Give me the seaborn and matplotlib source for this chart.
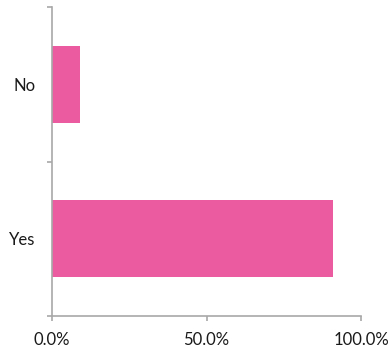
import matplotlib
matplotlib.use("Agg")
import matplotlib.pyplot as plt
import seaborn as sns
import pandas as pd
from matplotlib.ticker import FixedLocator, PercentFormatter

# Survey answers and their share of responses (%)
answers = ["No", "Yes"]
shares = [9.0, 91.0]
x_ticks = [0, 50, 100]

df = pd.DataFrame({"answer": answers, "share": shares})

sns.set_theme(style="white")
plt.rcParams["font.family"] = ["Lato", "DejaVu Sans"]

fig = plt.figure(figsize=(3.92, 3.51), dpi=100)
ax = fig.add_axes([0.1327, 0.0997, 0.921 - 0.1327, 0.980 - 0.0997])

sns.barplot(data=df, x="share", y="answer", order=answers, orient="h",
            color="#EA5C9F", saturation=1, width=0.5, ax=ax,
            edgecolor="none")

ax.set_xlim(0, 100)
ax.set_ylim(len(answers) - 0.5, -0.5)
ax.xaxis.set_major_locator(FixedLocator(x_ticks))
ax.xaxis.set_major_formatter(PercentFormatter(decimals=1))

spine_color = "#A8A8A8"
for side in ["top", "right"]:
    ax.spines[side].set_visible(False)
for side in ["left", "bottom"]:
    ax.spines[side].set_color(spine_color)
    ax.spines[side].set_linewidth(1.2)

# Category labels without ticks; ticks on the band boundaries instead
ax.tick_params(axis="y", which="major", length=0, pad=12,
               labelsize=12, labelcolor="#1a1a1a")
ax.yaxis.set_minor_locator(FixedLocator([-0.5, 0.5, 1.5]))
ax.tick_params(axis="y", which="minor", left=True, length=3.5, width=1.2,
               color=spine_color, direction="out")
ax.tick_params(axis="x", which="major", bottom=True, length=3.5, width=1.2,
               color=spine_color, direction="out", pad=8,
               labelsize=12, labelcolor="#1a1a1a")

ax.set_xlabel("")
ax.set_ylabel("")
ax.grid(False)

fig.savefig("out.png", dpi=100)
